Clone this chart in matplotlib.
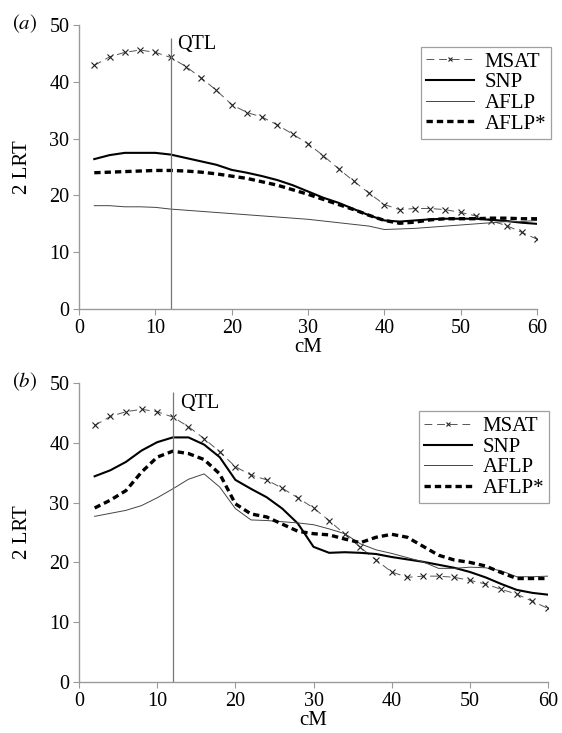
"""Two-panel QTL likelihood-ratio profiles along the chromosome (cM)."""

import matplotlib

matplotlib.use("Agg")
import matplotlib.pyplot as plt

# positions along the chromosome (cM)
cm = list(range(2, 61, 2))

# MSAT profile (same in both panels)
msat = [42.9, 44.4, 45.2, 45.6, 45.2, 44.3, 42.7, 40.7, 38.5, 36.0,
        34.6, 33.8, 32.4, 30.8, 29.1, 27.0, 24.7, 22.5, 20.4, 18.4,
        17.5, 17.7, 17.7, 17.5, 17.0, 16.4, 15.5, 14.7, 13.5, 12.3]

# panel (a)
snp_a = [26.4, 27.1, 27.5, 27.5, 27.5, 27.2, 26.6, 26.0, 25.4, 24.5,
         24.0, 23.4, 22.7, 21.8, 20.7, 19.6, 18.7, 17.6, 16.5, 15.6,
         15.4, 15.6, 15.8, 15.9, 15.9, 15.9, 15.7, 15.5, 15.2, 15.0]
aflp_a = [18.2, 18.2, 18.0, 18.0, 17.9, 17.6, 17.4, 17.2, 17.0, 16.8,
          16.6, 16.4, 16.2, 16.0, 15.8, 15.5, 15.2, 14.9, 14.6, 14.0,
          14.1, 14.2, 14.4, 14.6, 14.8, 15.0, 15.2, 15.4, 15.4, 15.6]
aflps_a = [24.0, 24.1, 24.2, 24.3, 24.4, 24.4, 24.3, 24.1, 23.8, 23.4,
           23.0, 22.4, 21.8, 21.0, 20.2, 19.3, 18.4, 17.5, 16.5, 15.6,
           15.1, 15.3, 15.7, 15.9, 15.9, 15.9, 16.0, 16.0, 15.9, 15.9]

# panel (b)
snp_b = [34.4, 35.4, 36.8, 38.7, 40.1, 40.9, 40.9, 39.7, 37.6, 33.8,
         32.3, 30.9, 29.0, 26.5, 22.6, 21.6, 21.7, 21.6, 21.4, 20.9,
         20.5, 20.1, 19.6, 19.1, 18.4, 17.5, 16.4, 15.4, 14.9, 14.6]
aflp_b = [27.7, 28.2, 28.7, 29.5, 30.8, 32.3, 33.9, 34.8, 32.6, 29.0,
          27.1, 27.0, 26.8, 26.6, 26.3, 25.6, 24.8, 23.1, 22.1, 21.5,
          20.8, 20.1, 19.0, 19.0, 19.2, 19.1, 18.6, 17.6, 17.6, 17.7]
aflps_b = [29.1, 30.4, 32.0, 35.1, 37.6, 38.6, 38.2, 37.2, 34.8, 29.8,
           28.1, 27.6, 26.4, 25.2, 24.8, 24.6, 23.9, 23.3, 24.2, 24.7,
           24.2, 22.7, 21.2, 20.4, 20.0, 19.4, 18.3, 17.3, 17.3, 17.3]

qtl_pos = 12

plt.rcParams["font.family"] = ["Liberation Serif", "DejaVu Serif"]
plt.rcParams["mathtext.fontset"] = "stix"

fig = plt.figure(figsize=(5.62, 7.33), dpi=100)
ax_a = fig.add_axes([0.1406, 0.5784, 0.815, 0.3874])
ax_b = fig.add_axes([0.1406, 0.0696, 0.8345, 0.4079])

panels = [
    # axes, tag, lines, QTL line top, legend anchor
    (ax_a, "a", snp_a, aflp_a, aflps_a, 47.7, (1.031, 0.923)),
    (ax_b, "b", snp_b, aflp_b, aflps_b, 48.5, (1.003, 0.905)),
]

spine_col = "#9a9a9a"

for ax, tag, snp, aflp, aflps, qtl_top, leg_anchor in panels:
    ax_px = ax.get_position().width * 562

    ax.plot(cm, msat, color="#555555", lw=0.7, ls=(0, (8, 5)),
            marker="x", ms=5, mew=0.8, mec="#222222", label="MSAT")
    ax.plot(cm, snp, color="black", lw=1.5, label="SNP")
    ax.plot(cm, aflp, color="#444444", lw=0.7, label="AFLP")
    ax.plot(cm, aflps, color="black", lw=2.4, ls=(0, (1.9, 1.2)), label="AFLP*")
    ax.vlines(qtl_pos, 0, qtl_top, color="#777777", lw=0.9)
    ax.text(qtl_pos + 0.9, 45.8, "QTL", fontsize=14.5, va="baseline", ha="left")

    ax.set_xlim(0, 60)
    ax.set_ylim(0, 50)
    ax.set_xticks(range(0, 61, 10))
    ax.set_yticks(range(0, 51, 10))
    ax.tick_params(labelsize=14.5, direction="out", length=4, width=0.8,
                   color=spine_col, pad=3)
    for side in ("top", "right"):
        ax.spines[side].set_visible(False)
    for side in ("left", "bottom"):
        ax.spines[side].set_color(spine_col)
        ax.spines[side].set_linewidth(1.0)
    ax.set_xlabel("cM", fontsize=15, labelpad=0)
    ax.set_ylabel("2 LRT", fontsize=15)
    ax.yaxis.set_label_coords(-47 / ax_px, 0.5)
    ax.text(-67 / ax_px, 1.004, r"$(\mathit{" + tag + r"})$",
            transform=ax.transAxes, fontsize=15, va="center", ha="left")

    leg = ax.legend(loc="upper right", bbox_to_anchor=leg_anchor, fontsize=15,
                    frameon=True, fancybox=False, handlelength=2.3,
                    borderpad=0.25, borderaxespad=0, labelspacing=0.05,
                    handletextpad=0.5, markerscale=0.7)
    leg.get_frame().set_edgecolor("#888888")
    leg.get_frame().set_linewidth(0.9)

fig.savefig("out.png", dpi=100)
